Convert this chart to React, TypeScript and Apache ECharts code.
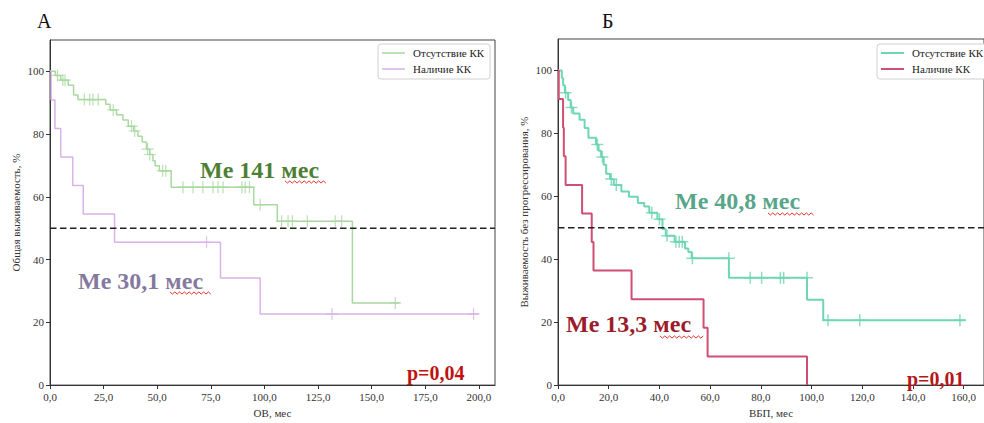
import React, { useEffect, useRef } from "react";
import * as echarts from "echarts";

// ---- Panel А: overall survival (ОВ) ----
const osNoCK: [number, number][] = [
  [0, 100], [2.5, 98.7], [5, 97.2], [8.5, 95.6], [11, 92.5], [13, 91], [26, 89.5], [28, 87.7],
  [31, 86.2], [34, 84.5], [36.5, 82.5], [39, 81], [41, 79.3], [43, 77.5], [45, 75.2], [46.5, 73.5],
  [48, 71.5], [49, 69.9], [51, 68.3], [56.5, 63.1], [95, 57.5], [106, 52.2], [141, 26.2], [163, 26.2],
];
const osNoCKCensor: [number, number][] = [
  [3.5, 98.7], [6, 97.2], [7, 97.2], [16, 91], [18.5, 91], [20, 91], [22.5, 91], [29.5, 87.7],
  [38, 82.5], [39.5, 81], [45.5, 75.2], [46.5, 73.5], [52.5, 68.3], [54, 68.3], [62, 63.1],
  [66.7, 63.1], [71.3, 63.1], [76, 63.1], [78.3, 63.1], [80.7, 63.1], [89.5, 63.1], [91, 63.1],
  [93, 63.1], [98, 57.5], [108, 52.2], [111, 52.2], [113, 52.2], [120, 52.2], [133, 52.2],
  [136, 52.2], [161, 26.2],
];
const osCK: [number, number][] = [
  [0, 100], [0.5, 90.9], [2.3, 81.8], [5, 72.7], [10.6, 63.6], [15.5, 54.5], [30.1, 45.5],
  [79.5, 34.1], [98, 22.7], [200, 22.7],
];
const osCKCensor: [number, number][] = [[73, 45.5], [131.5, 22.7], [197.5, 22.7]];

// ---- Panel Б: progression-free survival (ВБП) ----
const pfsNoCK: [number, number][] = [
  [0, 100], [1.5, 97.6], [2, 95.3], [2.7, 92.9], [4, 90.6], [5, 88.2], [6, 86.3], [8.5, 84.3],
  [10.5, 81.7], [12, 78.6], [15, 76.5], [16, 74.5], [17, 72.5], [18, 70], [19, 67.2], [20.5, 65.5],
  [22, 63.6], [25, 61.5], [28, 59.9], [31.5, 57.9], [34, 56.8], [36, 54.8], [39.2, 52.7],
  [41.2, 49.6], [42.5, 47.5], [46, 45.6], [50.1, 43.4], [51.4, 42.3], [52.7, 40.3], [67.4, 34.1],
  [98.2, 27.1], [104.6, 20.6], [160.8, 20.6],
];
const pfsNoCKCensor: [number, number][] = [
  [3, 92.9], [5.3, 88.2], [15.5, 76.5], [17.5, 72.5], [21, 65.5], [23, 63.6], [37, 54.8],
  [40, 52.7], [43, 47.5], [46.5, 45.6], [47.8, 45.6], [49, 45.6], [53, 40.3], [67.4, 40.3],
  [75.8, 34.1], [80.3, 34.1], [87.7, 34.1], [89, 34.1], [98.2, 34.1], [106.5, 20.6], [119, 20.6],
  [158.5, 20.6],
];
const pfsCK: [number, number][] = [
  [0, 100], [0.3, 90.9], [2, 81.8], [2.3, 72.7], [3, 63.6], [9.5, 54.5], [13.3, 45.5], [14, 36.4],
  [29, 27.3], [57.4, 18.2], [59, 9.1], [98.2, 0],
];

const osTicks = [0, 25, 50, 75, 100, 125, 150, 175, 200];
const pfsTicks = [0, 20, 40, 60, 80, 100, 120, 140, 160];
const yTicks = [0, 20, 40, 60, 80, 100];
const legendNames = ["Отсутствие КК", "Наличие КК"];

const SERIF = "Liberation Serif";
const C = {
  osNo: "#a9d8a0",
  osCK: "#d9b2e8",
  pfsNo: "#6fd6b3",
  pfsCK: "#cf4f74",
};

function txt(x: number, y: number, text: string, size: number, fill: string, bold: boolean, z = 20) {
  return {
    type: "text", x, y, z,
    style: {
      text, fill, fontFamily: SERIF, fontSize: size, fontWeight: bold ? "bold" : "normal",
      align: "left", verticalAlign: "middle",
    },
  };
}

function wavy(x0: number, x1: number, y: number) {
  const pts: number[][] = [];
  let up = true;
  for (let x = x0; x <= x1; x += 2.4) {
    pts.push([x, y + (up ? -1.1 : 1.1)]);
    up = !up;
  }
  return { type: "polyline", shape: { points: pts }, style: { stroke: "#e5322d", lineWidth: 1, fill: "none" }, silent: true, z: 21 };
}

function legendBox(x: number, c1: string, c2: string, lw: number) {
  return [
    { type: "rect", shape: { x, y: 44, width: 112, height: 35, r: 3 }, style: { fill: "#fff", stroke: "#d0d0d0", lineWidth: 1 }, z: 10 },
    { type: "line", shape: { x1: x + 4, y1: 53, x2: x + 27, y2: 53 }, style: { stroke: c1, lineWidth: lw }, z: 11 },
    { type: "line", shape: { x1: x + 4, y1: 69, x2: x + 27, y2: 69 }, style: { stroke: c2, lineWidth: lw }, z: 11 },
    txt(x + 35, 53, legendNames[0], 11, "#222", false, 11),
    txt(x + 35, 69, legendNames[1], 11, "#222", false, 11),
  ];
}

const fmtX = (v: number) => v.toFixed(1).replace(".", ",");

function xAxis(grid: number, max: number, ticks: number[], name: string) {
  return {
    type: "value", gridIndex: grid, min: 0, max, name, nameLocation: "middle", nameGap: 21,
    nameTextStyle: { fontFamily: SERIF, fontSize: 11, color: "#333" },
    axisLine: { onZero: false, lineStyle: { color: "#333", width: 1 } },
    axisTick: { length: 4, customValues: ticks, lineStyle: { color: "#333" } },
    axisLabel: { customValues: ticks, formatter: fmtX, fontFamily: SERIF, fontSize: 11, color: "#333", margin: 6 },
    splitLine: { show: false },
  };
}
function yAxis(grid: number, name: string) {
  return {
    type: "value", gridIndex: grid, min: 0, max: 110, name, nameLocation: "middle", nameGap: 29, nameRotate: 90,
    nameTextStyle: { fontFamily: SERIF, fontSize: 11, color: "#333" },
    axisLine: { show: true, onZero: false, lineStyle: { color: "#333", width: 1 } },
    axisTick: { show: true, length: 4, customValues: yTicks, lineStyle: { color: "#333" } },
    axisLabel: { customValues: yTicks, fontFamily: SERIF, fontSize: 11, color: "#333", margin: 6 },
    splitLine: { show: false },
  };
}

const CROSS = "path://M5 0 L5 10 M0 5 L10 5";

function stepSeries(idx: number, data: [number, number][], color: string, w: number) {
  return {
    type: "line", xAxisIndex: idx, yAxisIndex: idx, data, step: "end", symbol: "none",
    lineStyle: { color, width: w }, z: 3,
  };
}
function censorSeries(idx: number, data: [number, number][], color: string, w: number) {
  return {
    type: "scatter", xAxisIndex: idx, yAxisIndex: idx, data, symbol: CROSS, symbolSize: 12,
    itemStyle: { color: "transparent", borderColor: color, borderWidth: w }, z: 4,
  };
}
function dashSeries(idx: number, max: number) {
  return {
    type: "line", xAxisIndex: idx, yAxisIndex: idx, data: [[0, 50], [max, 50]], symbol: "none",
    lineStyle: { color: "#222", width: 1.5, type: [6.5, 3.5] }, z: 5,
  };
}

export default function App() {
  const ref = useRef<HTMLDivElement>(null);
  useEffect(() => {
    if (!ref.current) return;
    const chart = echarts.init(ref.current, undefined, { renderer: "svg" });
    chart.setOption({
      animation: false,
      backgroundColor: "#fff",
      textStyle: { fontFamily: SERIF },
      grid: [
        { left: 50, top: 40, width: 445, height: 349, show: true, borderColor: "#444", borderWidth: 1, backgroundColor: "transparent" },
        { left: 558, top: 39, width: 436, height: 354, show: true, borderColor: "#444", borderWidth: 1, backgroundColor: "transparent" },
      ],
      xAxis: [xAxis(0, 207.5, osTicks, "ОВ, мес"), xAxis(1, 168, pfsTicks, "ВБП, мес")],
      yAxis: [yAxis(0, "Общая выживаемость, %"), yAxis(1, "Выживаемость без прогрессирования, %")],
      series: [
        stepSeries(0, osNoCK, C.osNo, 1.5),
        stepSeries(0, osCK, C.osCK, 1.5),
        censorSeries(0, osNoCKCensor, C.osNo, 1.2),
        censorSeries(0, osCKCensor, C.osCK, 1.2),
        dashSeries(0, 207.5),
        stepSeries(1, pfsNoCK, C.pfsNo, 2),
        stepSeries(1, pfsCK, C.pfsCK, 2),
        censorSeries(1, pfsNoCKCensor, C.pfsNo, 1.5),
        dashSeries(1, 168),
      ],
      graphic: [
        txt(37, 21, "А", 20, "#111", false),
        txt(602, 21, "Б", 20, "#111", false),
        ...legendBox(378, C.osNo, C.osCK, 1.5),
        ...legendBox(877, C.pfsNo, C.pfsCK, 2),
        txt(200, 170, "Me 141 мес", 24, "#4e7f34", true),
        txt(78, 281, "Me 30,1 мес", 24, "#85799e", true),
        txt(675, 201, "Me 40,8 мес", 24, "#58a68a", true),
        txt(566, 324, "Me 13,3 мес", 24, "#9b1c2b", true),
        txt(407, 373, "p=0,04", 20, "#c0130f", true),
        txt(907, 379, "p=0,01", 20, "#b5181a", true),
        wavy(285, 328, 182),
        wavy(170, 213, 293),
        wavy(768, 815, 214),
        wavy(660, 705, 337),
      ],
    });
    return () => chart.dispose();
  }, []);
  return (
    <div
      ref={ref}
      style={{ position: "fixed", left: 0, top: 0, width: 984, height: 423, background: "#fff" }}
    />
  );
}
